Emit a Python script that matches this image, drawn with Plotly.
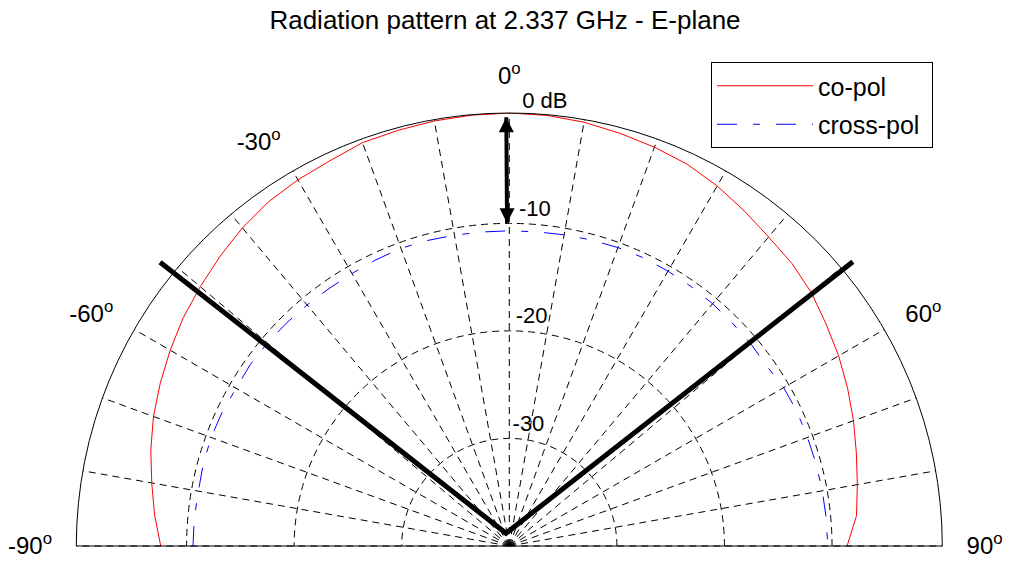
import plotly.graph_objects as go

title_text = "Radiation pattern at 2.337 GHz - E-plane"

theta_deg = [-90, -85, -80, -75, -70, -65, -60, -55, -50, -45, -40, -35, -30, -25, -20, -15, -10, -5,
             0, 5, 10, 15, 20, 25, 30, 35, 40, 45, 50, 55, 60, 65, 70, 75, 80, 85, 90]
copol_db = [-7.6, -6.9, -6.25, -5.5, -4.8, -4.2, -3.6, -3.0, -2.5, -1.95, -1.4, -0.95, -0.7, -0.5,
            -0.1, 0.0, 0.12, 0.2, 0.25, 0.18, 0.0, -0.28, -0.55, -0.85, -1.35, -1.95, -2.5, -2.85,
            -3.35, -4.05, -4.65, -5.3, -5.95, -6.6, -7.15, -7.6, -8.6]
crosspol_db = [-10.6, -10.6, -10.65, -10.55, -10.5, -10.55, -10.68, -10.6, -10.65, -10.7, -10.75,
               -10.78, -10.75, -10.65, -10.55, -10.6, -10.66, -10.7, -10.7, -10.68, -10.63, -10.55,
               -10.48, -10.45, -10.5, -10.55, -10.6, -10.68, -10.72, -10.8, -10.55, -10.48, -10.5,
               -10.48, -10.46, -10.42, -10.4]

beam_theta = [-50.9, -14.6, 50.4]
beam_db = [1.83, -38.78, 1.45]

arrow_theta = [-0.4, -0.4]
arrow_db = [-0.15, -10.0]

ring_db = [0, -10, -20, -30]
ring_labels = ["0 dB", "-10", "-20", "-30"]
ring_label_theta = 1.7
ring_label_lift = 0.2

angle_ticks = list(range(-90, 91, 10))
angle_labelled = [-90, -60, -30, 0, 60, 90]
angle_text = [f"{a}<sup>o</sup>" if a in angle_labelled else "" for a in angle_ticks]

r_min = -40
r_max = 0.25
r_max_overlay = 2.5

FONT = "Liberation Sans, Arial, sans-serif"

# ---- layout geometry (pixels) ----
W, H = 1009, 564
ML, MR, MT, MB = 30, 30, 80, 18
PW, PH = W - ML - MR, H - MT - MB
CX, CY, R = 509.3, 546.0, 433.0
R2 = R * (r_max_overlay - r_min) / (r_max - r_min)


def dom(radius):
    return dict(x=[(CX - radius - ML) / PW, (CX + radius - ML) / PW],
                y=[(H - MB - CY) / PH, (H - MB - CY + radius) / PH])


fig = go.Figure()

fig.add_trace(go.Scatterpolar(
    r=copol_db, theta=theta_deg, mode="lines", name="co-pol",
    line=dict(color="#ff0000", width=1), legendgroup="a"))
fig.add_trace(go.Scatterpolar(
    r=crosspol_db, theta=theta_deg, mode="lines", name="cross-pol\u00a0",
    line=dict(color="#0000ff", width=1, dash="20px,16px,7px,16px"), legendgroup="b"))
fig.add_trace(go.Scatterpolar(
    r=arrow_db, theta=arrow_theta, mode="lines+markers", showlegend=False, cliponaxis=False,
    line=dict(color="black", width=4),
    marker=dict(symbol=["arrow-up", "arrow-down"], size=15, color="black")))
fig.add_trace(go.Scatterpolar(
    r=[v + ring_label_lift for v in ring_db], theta=[ring_label_theta] * len(ring_db),
    mode="text", text=ring_labels,
    textposition="top right", showlegend=False, cliponaxis=False,
    textfont=dict(family=FONT, size=22, color="black")))
# beam-width lines on an overlay polar with identical scale but larger extent
fig.add_trace(go.Scatterpolar(
    r=beam_db, theta=beam_theta, mode="lines", showlegend=False, subplot="polar2",
    line=dict(color="black", width=5)))

grid_dash = "7px,5px"
fig.update_layout(
    width=W, height=H,
    margin=dict(l=ML, r=MR, t=MT, b=MB),
    paper_bgcolor="white",
    font=dict(family=FONT, color="black"),
    title=dict(text=title_text, x=505 / W, xanchor="center", y=1 - 20 / H, yanchor="middle",
               font=dict(size=26, family=FONT, color="black")),
    polar=dict(
        domain=dom(R),
        sector=[0, 180],
        bgcolor="white",
        radialaxis=dict(range=[r_min, r_max], tickvals=[-30, -20, -10], showticklabels=False,
                        showline=False, ticks="", gridcolor="black", gridwidth=1,
                        griddash=grid_dash),
        angularaxis=dict(direction="clockwise", rotation=90, tickmode="array",
                         tickvals=angle_ticks, ticktext=angle_text, ticks="outside",
                         ticklen=19, tickcolor="rgba(0,0,0,0)",
                         tickfont=dict(size=24, family=FONT, color="black"),
                         showline=True, linecolor="black", linewidth=1,
                         gridcolor="black", gridwidth=1, griddash=grid_dash),
    ),
    polar2=dict(
        domain=dom(R2),
        sector=[0, 180],
        bgcolor="rgba(0,0,0,0)",
        radialaxis=dict(range=[r_min, r_max_overlay], visible=False),
        angularaxis=dict(direction="clockwise", rotation=90, visible=False),
    ),
    legend=dict(x=(711 - ML) / PW, y=(H - MB - 62) / PH, xanchor="left", yanchor="top",
                bgcolor="white", bordercolor="black", borderwidth=1,
                font=dict(size=25, family=FONT, color="black"),
                itemwidth=96, tracegroupgap=3),
)

fig.write_html("out.html")
